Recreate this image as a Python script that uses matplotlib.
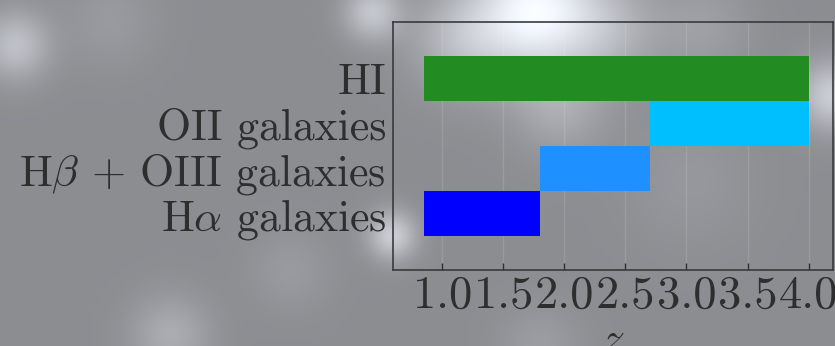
import numpy as np
import matplotlib
matplotlib.use('Agg')
import matplotlib.pyplot as plt

# redshift coverage of each tracer
surveys = ['HI', 'OII galaxies', r'H$\beta$ + OIII galaxies', r'H$\alpha$ galaxies']
z_min = [0.85, 2.7, 1.8, 0.85]
z_max = [4.0, 4.0, 2.7, 1.8]
bar_colors = ['forestgreen', 'deepskyblue', 'dodgerblue', 'blue']
z_ticks = [1.0, 1.5, 2.0, 2.5, 3.0, 3.5, 4.0]

plt.rcParams['font.family'] = 'serif'
plt.rcParams['font.serif'] = ['cmr10']
plt.rcParams['mathtext.fontset'] = 'cm'
plt.rcParams['axes.formatter.use_mathtext'] = True

W, H = 835, 346
fig = plt.figure(figsize=(W / 100, H / 100), dpi=100)

# soft grey sky backdrop with a few glowing patches
bg = fig.add_axes([0, 0, 1, 1])
yy, xx = np.mgrid[0:H, 0:W]
sky = np.full(xx.shape, 0.555)
glows = [(535, 10, 45, 0.42), (460, 40, 35, 0.15), (610, 30, 35, 0.12),
         (15, 45, 24, 0.2), (832, 95, 24, 0.25), (372, 12, 20, 0.22),
         (392, 235, 17, 0.25), (170, 335, 28, 0.12), (290, 270, 28, 0.05),
         (700, 25, 35, 0.07), (560, 110, 32, 0.1), (690, 180, 45, 0.04),
         (540, 345, 28, 0.06), (110, 20, 32, 0.05)]
for cx, cy, r, a in glows:
    sky += a * np.exp(-((xx - cx) ** 2 + (yy - cy) ** 2) / (2 * r ** 2))
img = np.dstack([sky * 0.985, sky, sky * 1.03]).clip(0, 1)
bg.imshow(img, aspect='auto', interpolation='bilinear')
bg.set_axis_off()

ax = fig.add_axes([393 / W, 1 - 270 / H, 440 / W, 248.3 / H])
ax.set_facecolor('none')
ypos = np.arange(len(surveys))[::-1]
widths = [hi - lo for lo, hi in zip(z_min, z_max)]
ax.barh(ypos, widths, left=z_min, height=1.0, color=bar_colors, zorder=2)

ax.set_xlim(0.596, 4.2)
ax.set_ylim(-1.25, 4.25)
ax.set_xticks(z_ticks)
ax.set_xticklabels([f'{t:.1f}' for t in z_ticks])
ax.set_yticks(ypos)
ax.set_yticklabels(surveys)
ax.grid(axis='x', color='white', alpha=0.12, lw=1, zorder=0)
ax.set_axisbelow(True)

ink = '#2e2e2e'
ax.tick_params(axis='x', direction='in', length=5, width=1, colors=ink,
               labelsize=33.5, pad=4)
ax.tick_params(axis='y', length=0, colors=ink, labelsize=31.5, pad=5)
for s in ax.spines.values():
    s.set_color('#3a3a3a')
    s.set_linewidth(1.2)
ax.set_xlabel('$z$', fontsize=33, color=ink, labelpad=2)

fig.savefig('out.png', dpi=100)
